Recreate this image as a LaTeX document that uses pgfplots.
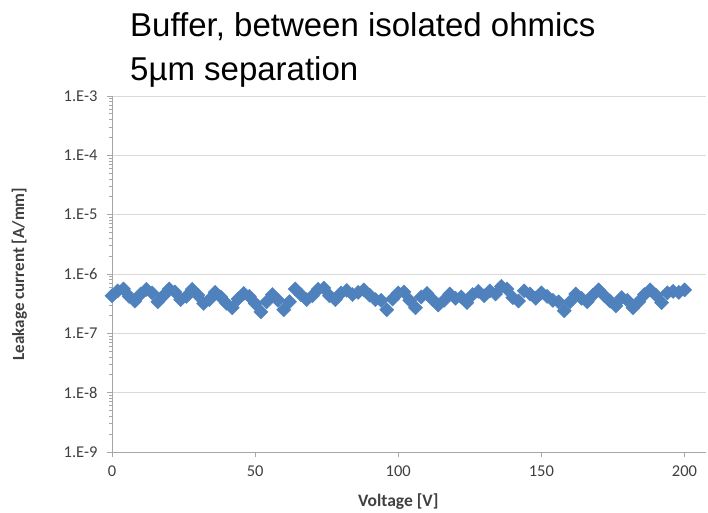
\documentclass[border=0pt]{standalone}
\usepackage{pgfplots}
\pgfplotsset{compat=1.18}
\usepackage{fontspec}
\setmainfont{Carlito}
\newfontfamily\titlefont{Liberation Sans}
\definecolor{seriesblue}{HTML}{4F81BD}
\definecolor{gridgray}{HTML}{D9D9D9}
\definecolor{axisgray}{HTML}{A6A6A6}
\definecolor{labelgray}{HTML}{404040}

\begin{document}
\begin{tikzpicture}
\path[use as bounding box] (0,0) rectangle (708pt,512pt);
% title
\node[anchor=base west, font=\titlefont\fontsize{33}{38}\selectfont, inner sep=0pt] at (130pt,475.5pt) {Buffer, between isolated ohmics};
\node[anchor=base west, font=\titlefont\fontsize{33}{38}\selectfont, inner sep=0pt] at (130pt,431.5pt) {5µm separation};
\begin{axis}[
  at={(112pt,60pt)}, anchor=south west,
  scale only axis, width=594pt, height=356pt,
  xmin=0, xmax=207.5,
  ymode=log, ymin=1e-9, ymax=1e-3,
  axis lines*=left,
  axis line style={axisgray, line width=0.8pt},
  xtick={0,50,100,150,200},
  ytick={1e-9,1e-8,1e-7,1e-6,1e-5,1e-4,1e-3},
  yticklabels={1.E-9,1.E-8,1.E-7,1.E-6,1.E-5,1.E-4,1.E-3},
  minor ytick={},
  log ticks with fixed point=false,
  ymajorgrids,
  grid style={gridgray, line width=0.8pt},
  tick align=outside,
  major tick length=5pt,
  tick style={axisgray, line width=0.8pt},
  /pgf/number format/assume math mode=true,
  xticklabel style={font=\fontsize{16.5}{18}\selectfont, text=labelgray, yshift=-5pt},
  yticklabel style={font=\fontsize{16.5}{18}\selectfont, text=labelgray, xshift=-6pt},
  xlabel={Voltage [V]},
  ylabel={Leakage current [A/mm]},
  xlabel style={font=\bfseries\fontsize{17.5}{20}\selectfont, text=labelgray, at={(axis description cs:0.482,-0.138)}, anchor=center},
  ylabel style={font=\bfseries\fontsize{17}{20}\selectfont, text=labelgray, at={(axis description cs:-0.156,0.5)}, anchor=center, rotate=0},
  clip=false,
]
\addplot[only marks, mark=square*, mark size=5pt,
  mark options={rotate=45, fill=seriesblue, draw=seriesblue}]
  table[x=V, y=I] {
V I
0 4.3e-7
2 5.2e-7
4 5.6e-7
6 4.2e-7
8 3.5e-7
10 4.6e-7
12 5.5e-7
14 4.8e-7
16 3.4e-7
18 4.3e-7
20 5.6e-7
22 5.0e-7
24 3.7e-7
26 4.2e-7
28 5.5e-7
30 4.4e-7
32 3.2e-7
34 3.7e-7
36 4.9e-7
38 4.1e-7
40 3.2e-7
42 2.7e-7
44 3.8e-7
46 4.7e-7
48 4.2e-7
50 3.2e-7
52 2.3e-7
54 3.4e-7
56 4.5e-7
58 3.6e-7
60 2.5e-7
62 3.4e-7
64 5.6e-7
66 4.5e-7
68 3.7e-7
70 4.3e-7
72 5.5e-7
74 5.8e-7
76 4.3e-7
78 3.7e-7
80 4.8e-7
82 5.3e-7
84 4.5e-7
86 4.9e-7
88 5.4e-7
90 4.4e-7
92 3.7e-7
94 3.6e-7
96 2.5e-7
98 3.8e-7
100 4.8e-7
102 5.0e-7
104 3.6e-7
106 2.7e-7
108 4.1e-7
110 4.7e-7
112 3.7e-7
114 3.0e-7
116 3.6e-7
118 4.6e-7
120 3.9e-7
122 4.1e-7
124 3.3e-7
126 4.5e-7
128 5.1e-7
130 4.3e-7
132 5.2e-7
134 4.6e-7
136 6.2e-7
138 5.6e-7
140 4.0e-7
142 3.5e-7
144 5.2e-7
146 4.6e-7
148 3.9e-7
150 4.8e-7
152 4.2e-7
154 3.6e-7
156 3.4e-7
158 2.4e-7
160 3.4e-7
162 4.6e-7
164 3.9e-7
166 3.4e-7
168 4.4e-7
170 5.4e-7
172 4.3e-7
174 3.5e-7
176 2.9e-7
178 4.0e-7
180 3.6e-7
182 2.7e-7
184 3.4e-7
186 4.5e-7
188 5.4e-7
190 4.4e-7
192 3.3e-7
194 4.8e-7
196 5.1e-7
198 4.9e-7
200 5.4e-7
};
\end{axis}
\end{tikzpicture}
\end{document}
